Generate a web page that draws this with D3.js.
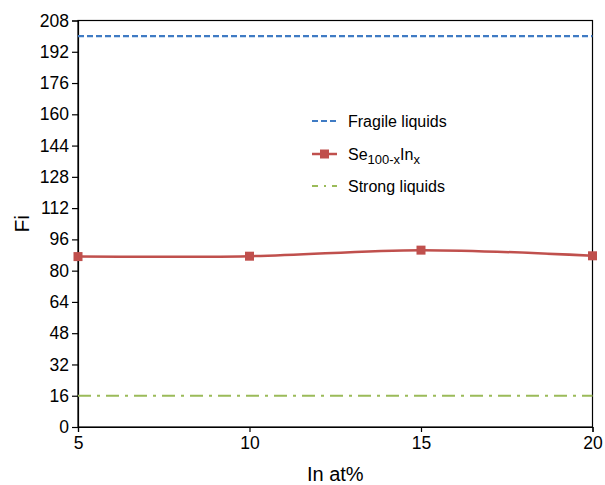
<!DOCTYPE html>
<html>
<head>
<meta charset="utf-8">
<script src="https://cdn.jsdelivr.net/npm/d3@7"></script>
<style>
  body { margin: 0; background: #fff; }
  text { font-family: "Liberation Sans", Arial, Helvetica, sans-serif; fill: #000; }
</style>
</head>
<body>
<div id="chart"></div>
<script>
// values
const inAt = [5, 10, 15, 20];
const fiSeIn = [87.2, 87.4, 90.5, 87.6];
const fragileFi = 200;
const strongFi = 16;
const yTicks = d3.range(0, 209, 16);
const xTicks = [5, 10, 15, 20];

const width = 605, height = 485;
const margin = {top: 20.5, right: 12.5, bottom: 58, left: 78};

const svg = d3.select("#chart").append("svg")
  .attr("width", width)
  .attr("height", height);

const x = d3.scaleLinear().domain([5, 20]).range([margin.left, width - margin.right]);
const y = d3.scaleLinear().domain([0, 208]).range([height - margin.bottom, margin.top]);

// frame
svg.append("rect")
  .attr("x", x(5)).attr("y", y(208))
  .attr("width", x(20) - x(5)).attr("height", y(0) - y(208))
  .attr("fill", "none").attr("stroke", "#000").attr("stroke-width", 1.2);

// axes
const yAxis = svg.append("g")
  .attr("transform", `translate(${x(5)},0)`)
  .call(d3.axisLeft(y).tickValues(yTicks).tickSize(6).tickPadding(3));
const xAxis = svg.append("g")
  .attr("transform", `translate(0,${y(0)})`)
  .call(d3.axisBottom(x).tickValues(xTicks).tickSize(5).tickPadding(5));
[yAxis, xAxis].forEach(a => {
  a.select(".domain").attr("stroke", "#000").attr("stroke-width", 1.2);
  a.selectAll("line").attr("stroke", "#000").attr("stroke-width", 1.2);
  a.selectAll("text").style("font-size", "17.5px").attr("fill", "#000");
});

// axis titles
svg.append("text")
  .attr("transform", `translate(29,${(y(0) + y(208)) / 2}) rotate(-90)`)
  .attr("text-anchor", "middle")
  .style("font-size", "21px")
  .text("Fi");
svg.append("text")
  .attr("x", (x(5) + x(20)) / 2)
  .attr("y", 481)
  .attr("text-anchor", "middle")
  .style("font-size", "20px")
  .text("In at%");

// reference lines
svg.append("line")
  .attr("x1", x(5)).attr("x2", x(20))
  .attr("y1", y(fragileFi)).attr("y2", y(fragileFi))
  .attr("stroke", "#3f7bc4").attr("stroke-width", 2.2)
  .attr("stroke-dasharray", "6,3");
svg.append("line")
  .attr("x1", x(5)).attr("x2", x(20))
  .attr("y1", y(strongFi)).attr("y2", y(strongFi))
  .attr("stroke", "#9bbb59").attr("stroke-width", 2.2)
  .attr("stroke-dasharray", "13,6,3,6");

// data series
const pts = inAt.map((d, i) => [d, fiSeIn[i]]);
const line = d3.line()
  .x(d => x(d[0])).y(d => y(d[1]))
  .curve(d3.curveCatmullRom.alpha(0.5));
svg.append("path")
  .datum(pts)
  .attr("d", line)
  .attr("fill", "none")
  .attr("stroke", "#c0504d")
  .attr("stroke-width", 2.5);
svg.selectAll("rect.mark")
  .data(pts)
  .join("rect")
  .attr("class", "mark")
  .attr("x", d => x(d[0]) - 4.5)
  .attr("y", d => y(d[1]) - 4.5)
  .attr("width", 9).attr("height", 9)
  .attr("fill", "#c0504d");

// legend
const lg = svg.append("g").attr("transform", "translate(312,0)");
lg.append("line")
  .attr("x1", 0).attr("x2", 25).attr("y1", 121).attr("y2", 121)
  .attr("stroke", "#3f7bc4").attr("stroke-width", 2.2)
  .attr("stroke-dasharray", "6,3");
lg.append("text").attr("x", 36).attr("y", 126.5).style("font-size", "16px").text("Fragile liquids");

lg.append("line")
  .attr("x1", 0).attr("x2", 25).attr("y1", 154).attr("y2", 154)
  .attr("stroke", "#c0504d").attr("stroke-width", 2.5);
lg.append("rect")
  .attr("x", 8).attr("y", 149.5).attr("width", 9).attr("height", 9)
  .attr("fill", "#c0504d");
const t2 = lg.append("text").attr("x", 36).attr("y", 159.5).style("font-size", "16px");
t2.append("tspan").text("Se");
t2.append("tspan").attr("dy", 4).style("font-size", "13px").text("100-x");
t2.append("tspan").attr("dy", -4).text("In");
t2.append("tspan").attr("dy", 4).style("font-size", "13px").text("x");

lg.append("line")
  .attr("x1", 0).attr("x2", 25).attr("y1", 186).attr("y2", 186)
  .attr("stroke", "#9bbb59").attr("stroke-width", 2.2)
  .attr("stroke-dasharray", "6,6,2,6");
lg.append("text").attr("x", 36).attr("y", 191.5).style("font-size", "16px").text("Strong liquids");
</script>
</body>
</html>
